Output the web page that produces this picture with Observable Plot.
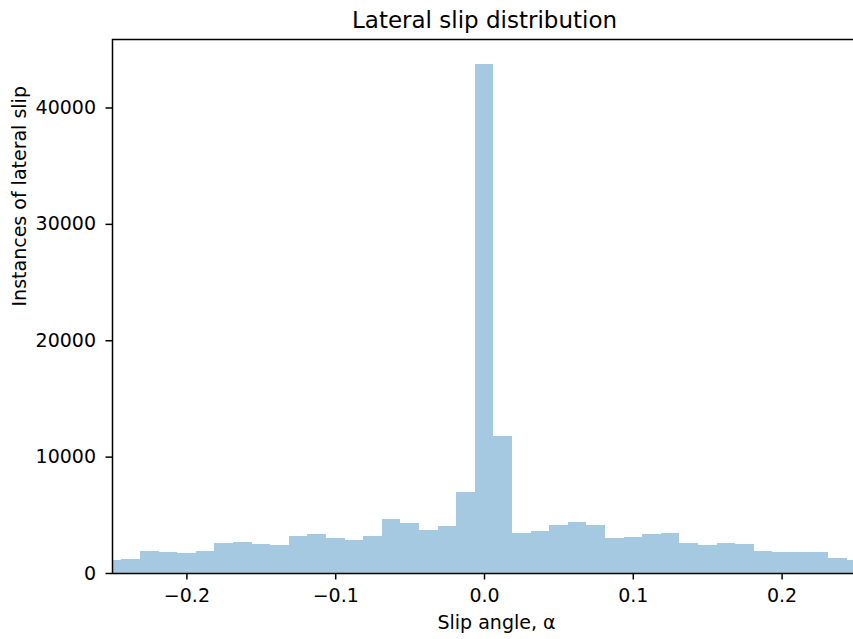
<!DOCTYPE html>
<html>
<head>
<meta charset="utf-8">
<script src="https://cdn.jsdelivr.net/npm/d3@7"></script>
<script src="https://cdn.jsdelivr.net/npm/@observablehq/plot@0.6"></script>
<style>
  html, body { margin: 0; padding: 0; background: #fff; overflow: hidden; }
  #chart svg { display: block; }
</style>
</head>
<body>
<div id="chart"></div>
<script>
// Histogram of lateral slip angles: bin centres and counts per bin.
const binWidth = 0.0125;
const binCenters = [
  -0.25, -0.2375, -0.225, -0.2125, -0.2, -0.1875, -0.175, -0.1625, -0.15, -0.1375,
  -0.125, -0.1125, -0.1, -0.0875, -0.075, -0.0625, -0.05, -0.0375, -0.025, -0.0125,
  0, 0.0125, 0.025, 0.0375, 0.05, 0.0625, 0.075, 0.0875, 0.1, 0.1125,
  0.125, 0.1375, 0.15, 0.1625, 0.175, 0.1875, 0.2, 0.2125, 0.225, 0.2375, 0.25
];
const counts = [
  1075, 1190, 1910, 1790, 1680, 1910, 2540, 2640, 2510, 2390,
  3220, 3370, 3000, 2860, 3220, 4600, 4280, 3720, 4070, 6920,
  43700, 11740, 3460, 3570, 4090, 4400, 4090, 2990, 3110, 3370,
  3480, 2540, 2420, 2620, 2510, 1910, 1830, 1810, 1820, 1305, 1100
];
const xTicks = [-0.2, -0.1, 0, 0.1, 0.2];
const yTicks = [0, 10000, 20000, 30000, 40000];
const xDomain = [-0.25, 0.25];
const yDomain = [0, 45885];

const title = "Lateral slip distribution";
const xLabel = "Slip angle, α";
const yLabel = "Instances of lateral slip";

const bins = binCenters.map((c, i) => ({
  x1: c - binWidth / 2,
  x2: c + binWidth / 2,
  count: counts[i]
}));

const fmtX = d => (d === 0 ? "0.0" : d.toFixed(1).replace("-", "\u2212"));
const fmtY = d => String(d);

const chart = Plot.plot({
  width: 853,
  height: 639,
  marginLeft: 112,
  marginRight: -3,
  marginTop: 39,
  marginBottom: 66,
  style: {
    fontFamily: "'DejaVu Sans', sans-serif",
    fontSize: "19px",
    color: "#000",
    background: "#fff",
    overflow: "hidden"
  },
  x: { domain: xDomain },
  y: { domain: yDomain },
  marks: [
    Plot.rectY(bins, {
      x1: "x1", x2: "x2", y: "count", fill: "#a5c9e1",
      inset: 0, clip: true, shapeRendering: "crispEdges"
    }),
    Plot.axisX({
      ticks: xTicks, tickFormat: fmtX, tickSize: 6.5, tickPadding: 8,
      strokeWidth: 1.5, fontSize: 19, label: null
    }),
    Plot.axisY({
      ticks: yTicks, tickFormat: fmtY, tickSize: 6.5, tickPadding: 10,
      strokeWidth: 1.5, fontSize: 19, label: null
    }),
    Plot.frame({ stroke: "#000", strokeWidth: 1.5 }),
    Plot.text([title], {
      text: d => d, frameAnchor: "top", dy: -12, lineAnchor: "bottom", fontSize: 23
    }),
    Plot.text([xLabel], {
      text: d => d, frameAnchor: "bottom", dx: 12, dy: 49, lineAnchor: "middle", fontSize: 19
    }),
    Plot.text([yLabel], {
      text: d => d, frameAnchor: "left", dx: -93, rotate: -90, lineAnchor: "middle", fontSize: 19
    })
  ]
});

document.getElementById("chart").appendChild(chart);
</script>
</body>
</html>
